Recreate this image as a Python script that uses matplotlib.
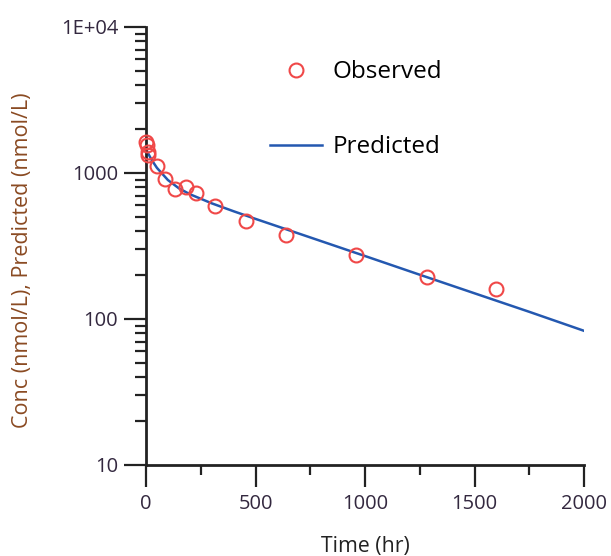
import matplotlib
matplotlib.use('Agg')
import matplotlib.pyplot as plt
import matplotlib.ticker as mticker

plt.rcParams['font.family'] = ['Open Sans', 'DejaVu Sans']

# observed concentrations
obs_time = [0, 5, 9, 11, 50, 88, 133, 183, 228, 315, 457, 640, 960, 1283, 1598]
obs_conc = [1630, 1560, 1390, 1330, 1117, 910, 777, 802, 730, 594, 469, 376, 274, 194, 160]

# predicted curve, values
pred_time = [0, 25, 50, 100, 150, 200, 300, 400, 500, 750, 1000, 1250, 1500, 1750, 2000]
pred_conc = [1450, 1235, 1084, 895, 786, 716, 620, 547, 485, 362, 270, 201, 150, 112, 83]

y_ticks = [10, 100, 1000, 10000]
y_tick_labels = ['10', '100', '1000', '1E+04']
x_ticks = [0, 500, 1000, 1500, 2000]

fig = plt.figure(figsize=(6.11, 5.56), dpi=100)
ax = fig.add_axes([146 / 611, 1 - 465 / 556, (584 - 146) / 611, (465 - 27) / 556])

ax.plot(pred_time, pred_conc, color='#2458b0', lw=1.8, label='Predicted', zorder=2)
ax.plot(obs_time, obs_conc, 'o', ms=10, mfc='none', mec='#f04848', mew=1.5,
        label='Observed', clip_on=False, zorder=3)

ax.set_yscale('log')
ax.set_xlim(0, 2000)
ax.set_ylim(10, 10000)

ax.yaxis.set_major_locator(mticker.FixedLocator(y_ticks))
ax.yaxis.set_major_formatter(mticker.FixedFormatter(y_tick_labels))
ax.yaxis.set_minor_locator(mticker.LogLocator(base=10, subs=range(2, 10)))
ax.yaxis.set_minor_formatter(mticker.NullFormatter())
ax.xaxis.set_major_locator(mticker.FixedLocator(x_ticks))
ax.xaxis.set_minor_locator(mticker.MultipleLocator(250))

for side in ['top', 'right']:
    ax.spines[side].set_visible(False)
for side in ['left', 'bottom']:
    ax.spines[side].set_linewidth(2.0)
    ax.spines[side].set_color('#222222')

ax.tick_params(which='major', length=16, width=1.6, color='#222222',
               labelsize=14.5, labelcolor='#33283f', direction='out', pad=4)
ax.tick_params(which='minor', length=8, width=1.6, color='#222222', direction='out')
ax.tick_params(axis='x', which='minor', length=7)
ax.tick_params(axis='x', which='major', pad=5)

ax.set_ylabel('Conc (nmol/L), Predicted (nmol/L)', fontsize=15.5, color='#8a4a22', va='center')
ax.yaxis.set_label_coords(-0.283, 0.468)
ax.set_xlabel('Time (hr)', fontsize=15.3, color='#222222', va='center')
ax.xaxis.set_label_coords(0.5, -0.185)

handles, labels = ax.get_legend_handles_labels()
ax.legend(handles[::-1], labels[::-1], loc='upper left', bbox_to_anchor=(0.283, 0.924),
          frameon=False, fontsize=17.5, handlelength=2.14, labelspacing=2.1,
          handletextpad=0.45, borderpad=0, borderaxespad=0)

fig.savefig('out.png', dpi=100)
